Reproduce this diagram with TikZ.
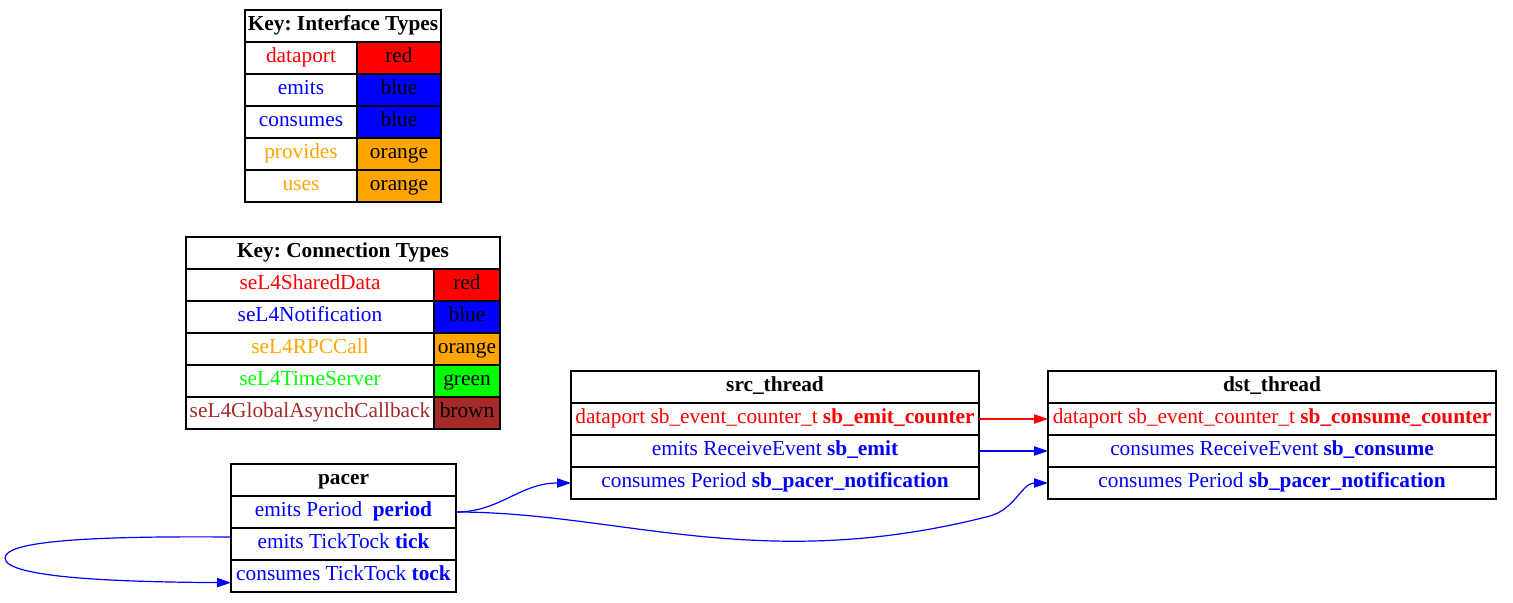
\documentclass[tikz,border=0pt]{standalone}
\usepackage{fontspec}
\setmainfont{Liberation Serif}
\usetikzlibrary{arrows.meta}
\definecolor{gvred}{HTML}{FF0000}
\definecolor{gvblue}{HTML}{0000FF}
\definecolor{gvorange}{HTML}{FFA500}
\definecolor{gvgreen}{HTML}{00FF00}
\definecolor{gvbrown}{HTML}{A52A2A}
\frenchspacing
\begin{document}
\begin{tikzpicture}[x=0.75pt,y=-0.75pt,
  cell/.style={draw=black, line width=0.8pt, inner sep=0pt, outer sep=0pt,
    minimum height=24pt, text height=0.9em, text depth=0.17em,
    font=\fontsize{16pt}{18pt}\selectfont},
  edge/.style={line width=0.9pt, -{Triangle[length=10.5pt,width=7pt]}},
]
\useasboundingbox (0,0) rectangle (1513,603);
% Key: Interface Types
\node[cell, minimum width=147pt] (ikh) at (343,26) {\textbf{Key: Interface Types}};
\node[cell, minimum width=84pt, text=gvred] (ik1a) at (301,58) {dataport};
\node[cell, minimum width=63pt, fill=gvred] (ik1b) at (399,58) {red};
\node[cell, minimum width=84pt, text=gvblue] (ik2a) at (301,90) {emits};
\node[cell, minimum width=63pt, fill=gvblue] (ik2b) at (399,90) {blue};
\node[cell, minimum width=84pt, text=gvblue] (ik3a) at (301,122) {consumes};
\node[cell, minimum width=63pt, fill=gvblue] (ik3b) at (399,122) {blue};
\node[cell, minimum width=84pt, text=gvorange] (ik4a) at (301,154) {provides};
\node[cell, minimum width=63pt, fill=gvorange] (ik4b) at (399,154) {orange};
\node[cell, minimum width=84pt, text=gvorange] (ik5a) at (301,186) {uses};
\node[cell, minimum width=63pt, fill=gvorange] (ik5b) at (399,186) {orange};
% Key: Connection Types
\node[cell, minimum width=235.5pt] (ckh) at (343,253) {\textbf{Key: Connection Types}};
\node[cell, minimum width=186pt, text=gvred] (ck1a) at (310,285) {seL4SharedData};
\node[cell, minimum width=49.5pt, fill=gvred] (ck1b) at (467,285) {red};
\node[cell, minimum width=186pt, text=gvblue] (ck2a) at (310,317) {seL4Notification};
\node[cell, minimum width=49.5pt, fill=gvblue] (ck2b) at (467,317) {blue};
\node[cell, minimum width=186pt, text=gvorange] (ck3a) at (310,349) {seL4RPCCall};
\node[cell, minimum width=49.5pt, fill=gvorange] (ck3b) at (467,349) {orange};
\node[cell, minimum width=186pt, text=gvgreen] (ck4a) at (310,381) {seL4TimeServer};
\node[cell, minimum width=49.5pt, fill=gvgreen] (ck4b) at (467,381) {green};
\node[cell, minimum width=186pt, text=gvbrown] (ck5a) at (310,413) {seL4GlobalAsynchCallback};
\node[cell, minimum width=49.5pt, fill=gvbrown] (ck5b) at (467,413) {brown};
% pacer
\node[cell, minimum width=168.75pt] (ph) at (343.5,480) {\textbf{pacer}};
\node[cell, minimum width=168.75pt, text=gvblue] (p1) at (343.5,512) {emits Period \ \textbf{period}};
\node[cell, minimum width=168.75pt, text=gvblue] (p2) at (343.5,544) {emits TickTock \textbf{tick}};
\node[cell, minimum width=168.75pt, text=gvblue] (p3) at (343.5,576) {consumes TickTock \textbf{tock}};
% src_thread
\node[cell, minimum width=306pt] (sh) at (775,387) {\textbf{src\_thread}};
\node[cell, minimum width=306pt, text=gvred] (s1) at (775,419) {dataport sb\_event\_counter\_t \textbf{sb\_emit\_counter}};
\node[cell, minimum width=306pt, text=gvblue] (s2) at (775,451) {emits ReceiveEvent \textbf{sb\_emit}};
\node[cell, minimum width=306pt, text=gvblue] (s3) at (775,483) {consumes Period \textbf{sb\_pacer\_notification}};
% dst_thread
\node[cell, minimum width=336pt] (dh) at (1272,387) {\textbf{dst\_thread}};
\node[cell, minimum width=336pt, text=gvred] (d1) at (1272,419) {dataport sb\_event\_counter\_t \textbf{sb\_consume\_counter}};
\node[cell, minimum width=336pt, text=gvblue] (d2) at (1272,451) {consumes ReceiveEvent \textbf{sb\_consume}};
\node[cell, minimum width=336pt, text=gvblue] (d3) at (1272,483) {consumes Period \textbf{sb\_pacer\_notification}};
% edges
\draw[edge, gvred] (s1.east) -- (d1.west);
\draw[edge, gvblue] (s2.east) -- (d2.west);
\draw[edge, gvblue] (p1.east) .. controls (500,512) and (520,483) .. (s3.west);
\draw[edge, gvblue] (p1.east) .. controls (620,512) and (760,575) .. (990,516)
  .. controls (1015,509) and (1022,483) .. (d3.west);
\draw[edge, gvblue] ([yshift=5.25pt]p2.west) .. controls (100,536) and (5,540) .. (5,558)
  .. controls (5,578) and (120,582) .. ([yshift=-5pt]p3.west);
\end{tikzpicture}
\end{document}
